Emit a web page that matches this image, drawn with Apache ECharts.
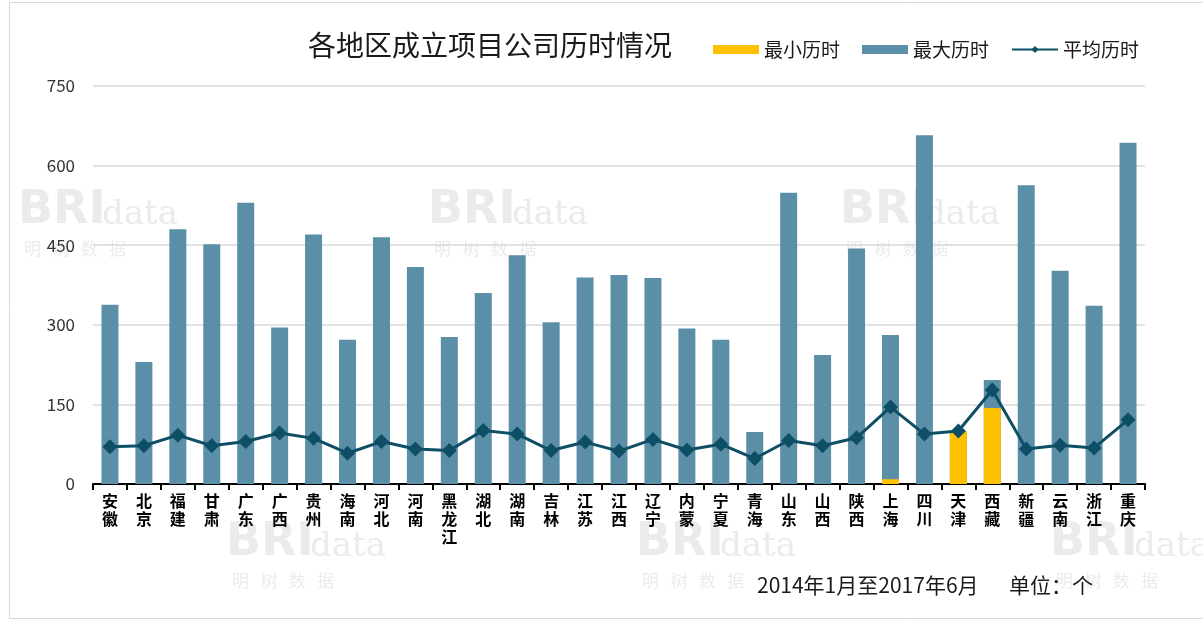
<!DOCTYPE html>
<html>
<head>
<meta charset="utf-8">
<title>各地区成立项目公司历时情况</title>
<script src="https://cdn.jsdelivr.net/npm/echarts@6/dist/echarts.min.js"></script>
<style>
html,body{margin:0;padding:0;background:#fff;}
#main{width:1203px;height:625px;}
</style>
</head>
<body>
<div id="main"></div>
<script>
// 地区
var regions = ['安徽','北京','福建','甘肃','广东','广西','贵州','海南','河北','河南','黑龙江','湖北','湖南','吉林','江苏',
	'江西','辽宁','内蒙','宁夏','青海','山东','山西','陕西','上海','四川','天津','西藏','新疆','云南','浙江','重庆'];
// 最小历时
var minDays = [0,0,0,0,0,0,0,0,0,0,0,0,0,0,0,
	0,0,0,0,0,0,0,0,9,0,100,143,0,0,0,0];
// 最大历时
var maxDays = [338,230,480,452,530,295,470,272,465,409,277,360,431,305,389,
	394,388,293,272,98,549,243,444,281,657,100,196,563,402,336,643];
// 平均历时
var avgDays = [70,72,92,72,80,96,86,58,80,66,63,101,94,63,79,
	62,84,64,75,48,82,72,87,145,94,100,177,66,73,68,121];
// 纵轴刻度
var yTicks = [0,150,300,450,600,750];

var FONT = '"Noto Sans CJK SC", "Noto Sans", sans-serif';

// 水印
var marks = [[18,188],[428,188],[840,188],[226,520],[636,520],[1050,520]];
var wm = [];
for (var i = 0; i < marks.length; i++) {
	wm.push({
		type: 'text', left: marks[i][0], top: marks[i][1], z: -1, silent: true,
		style: {text: 'BRI', fill: '#ebebeb', font: 'bold 46px "DejaVu Sans", sans-serif'}
	});
	wm.push({
		type: 'text', left: marks[i][0] + 84, top: marks[i][1] + 10, z: -1, silent: true,
		style: {text: 'data', fill: '#ebebeb', font: '34px "DejaVu Serif", serif'}
	});
	wm.push({
		type: 'text', left: marks[i][0] + 6, top: marks[i][1] + 52, z: -1, silent: true,
		style: {text: '明   树   数   据', fill: '#ebebeb', font: '17px ' + FONT}
	});
}
// 外框
wm.push({
	type: 'rect', left: 7, top: 0, z: -2, silent: true,
	shape: {width: 1195, height: 616},
	style: {fill: 'none', stroke: '#d9d9d9', lineWidth: 1}
});
// 注释
wm.push({
	type: 'text', left: 757, top: 575,
	style: {text: '2014年1月至2017年6月', fill: '#1a1a1a', font: '21px ' + FONT}
});
wm.push({
	type: 'text', left: 1009, top: 575,
	style: {text: '单位：个', fill: '#1a1a1a', font: '21px ' + FONT}
});

var chart = echarts.init(document.getElementById('main'));
var option = {
	animation: false,
	textStyle: {fontFamily: FONT},
	title: {
		text: '各地区成立项目公司历时情况',
		left: 303, top: 26,
		textStyle: {fontSize: 28, fontWeight: 'normal', color: '#1a1a1a', fontFamily: FONT}
	},
	legend: {
		left: 708, top: 35,
		itemWidth: 46, itemHeight: 9, itemGap: 22,
		textStyle: {fontSize: 19, color: '#1a1a1a', fontFamily: FONT},
		data: [
			{name: '最小历时', icon: 'rect'},
			{name: '最大历时', icon: 'rect'},
			{name: '平均历时'}
		]
	},
	graphic: wm,
	grid: {left: 93, right: 58, top: 86, bottom: 141},
	xAxis: {
		type: 'category',
		data: regions,
		axisLine: {lineStyle: {color: '#000', width: 2}},
		axisTick: {show: true, alignWithLabel: false, length: 6, lineStyle: {color: '#000', width: 2}},
		axisLabel: {
			interval: 0, color: '#000', fontSize: 16, fontWeight: 'bold', lineHeight: 18, margin: 8,
			formatter: function (v) { return v.split('').join('\n'); }
		}
	},
	yAxis: {
		type: 'value',
		min: yTicks[0], max: yTicks[yTicks.length - 1], interval: 150,
		axisLine: {show: false},
		axisTick: {show: false},
		splitLine: {lineStyle: {color: '#d9d9d9', width: 1.5}},
		axisLabel: {color: '#333', fontSize: 17, margin: 18}
	},
	series: [
		{
			name: '最大历时', type: 'bar', data: maxDays,
			barWidth: 17, barGap: '-100%', z: 2,
			itemStyle: {color: '#5b8fa8'}
		},
		{
			name: '最小历时', type: 'bar', data: minDays,
			barWidth: 17, barGap: '-100%', z: 3,
			itemStyle: {color: '#ffc000'}
		},
		{
			name: '平均历时', type: 'line', data: avgDays, z: 5,
			symbol: 'diamond', symbolSize: 15,
			lineStyle: {color: '#0e4f66', width: 3},
			itemStyle: {color: '#0e4f66'}
		}
	]
};
chart.setOption(option);
</script>
</body>
</html>
